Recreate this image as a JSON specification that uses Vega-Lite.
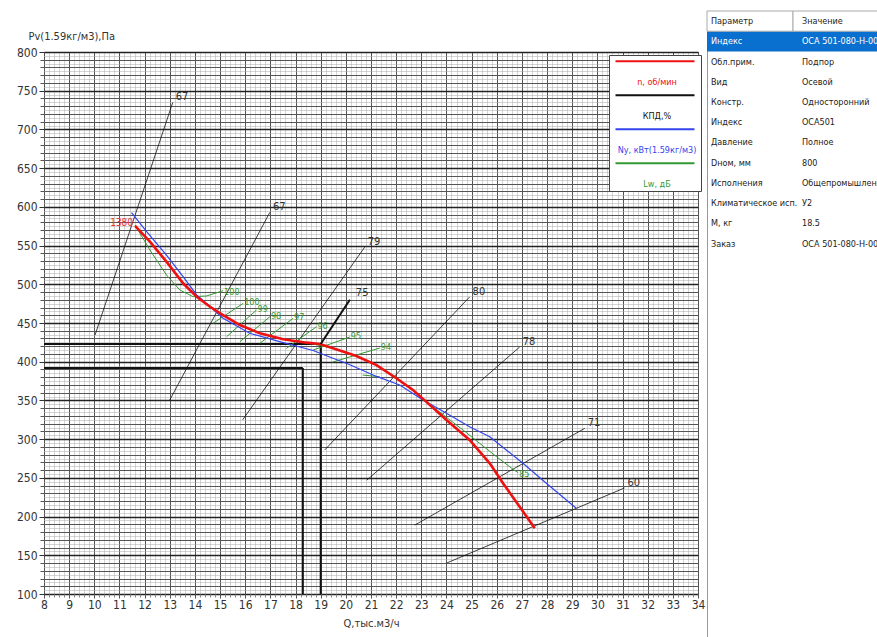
{
  "$schema": "https://vega.github.io/schema/vega-lite/v6.json",
  "background": "white",
  "padding": {"left": 15, "top": 10, "right": 0, "bottom": 0},
  "autosize": {"type": "pad"},
  "config": {"font": "Liberation Sans Narrow, DejaVu Sans Condensed, Arial Narrow, sans-serif"},
  "datasets": {
    "red": [
      {"q": 11.62, "p": 575.3}, {"q": 12.21, "p": 555}, {"q": 12.87, "p": 529.2}, {"q": 13.53, "p": 501.3},
      {"q": 14.07, "p": 484}, {"q": 14.6, "p": 471}, {"q": 15.12, "p": 460.3}, {"q": 15.79, "p": 447.4},
      {"q": 16.58, "p": 436.7}, {"q": 17.51, "p": 428.9}, {"q": 18.44, "p": 424.6}, {"q": 18.97, "p": 422.9},
      {"q": 19.49, "p": 417.3}, {"q": 20.09, "p": 410.9}, {"q": 20.42, "p": 407.4}, {"q": 21.22, "p": 395.7},
      {"q": 22.01, "p": 378.6}, {"q": 22.67, "p": 363.5}, {"q": 23.07, "p": 352}, {"q": 24.0, "p": 324.7},
      {"q": 24.92, "p": 298.9}, {"q": 25.72, "p": 268.8}, {"q": 26.25, "p": 243}, {"q": 26.91, "p": 212.7},
      {"q": 27.51, "p": 184.9}
    ],
    "blue": [
      {"q": 11.48, "p": 592.4}, {"q": 12.08, "p": 567.9}, {"q": 12.87, "p": 537.8}, {"q": 13.53, "p": 509.8},
      {"q": 14.07, "p": 486.2}, {"q": 15.12, "p": 456.1}, {"q": 16.18, "p": 436.7}, {"q": 17.51, "p": 424.6},
      {"q": 18.7, "p": 414.5}, {"q": 19.49, "p": 404.5}, {"q": 20.09, "p": 397}, {"q": 21.22, "p": 381},
      {"q": 22.14, "p": 370}, {"q": 23.07, "p": 350.5}, {"q": 24.0, "p": 333.4}, {"q": 24.92, "p": 316.1},
      {"q": 25.72, "p": 303.2}, {"q": 26.38, "p": 286}, {"q": 27.04, "p": 268.8}, {"q": 27.97, "p": 243},
      {"q": 29.16, "p": 210.7}
    ],
    "green": [
      {"id": "curl", "q": 11.62, "p": 576.6}, {"id": "curl", "q": 12.21, "p": 544.3}, {"id": "curl", "q": 12.87, "p": 512},
      {"id": "curl", "q": 13.4, "p": 492.6}, {"id": "curl", "q": 13.93, "p": 484}, {"id": "curl", "q": 14.46, "p": 484.9},
      {"id": "curl", "q": 15.12, "p": 491.7},
      {"id": "main", "q": 14.07, "p": 484}, {"id": "main", "q": 15.12, "p": 460.3}, {"id": "main", "q": 15.79, "p": 447.4},
      {"id": "main", "q": 16.58, "p": 436.7}, {"id": "main", "q": 17.51, "p": 428.9}, {"id": "main", "q": 18.44, "p": 424.6},
      {"id": "main", "q": 19.49, "p": 417.3}, {"id": "main", "q": 20.42, "p": 407.4}, {"id": "main", "q": 21.22, "p": 395.7},
      {"id": "main", "q": 22.01, "p": 379.5}, {"id": "main", "q": 23.07, "p": 352}, {"id": "main", "q": 24.0, "p": 328.2},
      {"id": "main", "q": 24.66, "p": 311.8}, {"id": "main", "q": 25.32, "p": 294.6}, {"id": "main", "q": 25.99, "p": 277.3},
      {"id": "main", "q": 26.65, "p": 261}, {"id": "main", "q": 26.85, "p": 256.7}
    ],
    "gseg": [
      {"q1": 14.72, "p1": 449.6, "q2": 15.92, "p2": 475.4, "t": "100"},
      {"q1": 15.26, "p1": 432.3, "q2": 16.45, "p2": 466.8, "t": "99"},
      {"q1": 15.79, "p1": 425.9, "q2": 16.98, "p2": 458.1, "t": "98"},
      {"q1": 16.58, "p1": 423.8, "q2": 17.9, "p2": 456, "t": "97"},
      {"q1": 17.64, "p1": 417.3, "q2": 18.83, "p2": 445.2, "t": "96"},
      {"q1": 18.69, "p1": 415, "q2": 20.16, "p2": 431.9, "t": "95"},
      {"q1": 19.48, "p1": 399.6, "q2": 21.35, "p2": 417.7, "t": "94"},
      {"q1": 20.67, "p1": 382.8, "q2": 21.35, "p2": 380.6, "t": ""}
    ],
    "glab": [
      {"q": 15.12, "p": 491.7, "t": "100"},
      {"q": 26.85, "p": 256.7, "t": "85"}
    ],
    "kpd": [
      {"q1": 10.03, "p1": 434.5, "q2": 13.12, "p2": 735, "t": "67"},
      {"q1": 13.0, "p1": 350.5, "q2": 16.98, "p2": 593, "t": "67"},
      {"q1": 15.9, "p1": 325, "q2": 20.75, "p2": 548, "t": "79"},
      {"q1": 19.16, "p1": 286, "q2": 24.92, "p2": 483.6, "t": "80"},
      {"q1": 20.83, "p1": 247, "q2": 26.91, "p2": 419, "t": "78"},
      {"q1": 22.74, "p1": 189, "q2": 29.5, "p2": 314, "t": "71"},
      {"q1": 24.01, "p1": 140, "q2": 31.08, "p2": 237, "t": "60"}
    ],
    "kpdBold": [
      {"q1": 19.0, "p1": 422.9, "q2": 20.16, "p2": 480, "t": "75"}
    ],
    "op": [
      {"q1": 8, "p1": 422.9, "q2": 19, "p2": 422.9},
      {"q1": 19, "p1": 422.9, "q2": 19, "p2": 100},
      {"q1": 8, "p1": 391.9, "q2": 18.29, "p2": 391.9},
      {"q1": 18.29, "p1": 391.9, "q2": 18.29, "p2": 100}
    ],
    "redlab": [{"q": 11.62, "p": 575.3, "t": "1380"}],
    "tbl": [
      {"r": 0, "k": "Параметр", "v": "Значение"},
      {"r": 1, "k": "Индекс", "v": "ОСА 501-080-Н-00220"},
      {"r": 2, "k": "Обл.прим.", "v": "Подпор"},
      {"r": 3, "k": "Вид", "v": "Осевой"},
      {"r": 4, "k": "Констр.", "v": "Односторонний"},
      {"r": 5, "k": "Индекс", "v": "ОСА501"},
      {"r": 6, "k": "Давление", "v": "Полное"},
      {"r": 7, "k": "Dном, мм", "v": "800"},
      {"r": 8, "k": "Исполнения", "v": "Общепромышленный"},
      {"r": 9, "k": "Климатическое исп.", "v": "У2"},
      {"r": 10, "k": "M, кг", "v": "18.5"},
      {"r": 11, "k": "Заказ", "v": "ОСА 501-080-Н-00220"}
    ]
  },
  "spacing": 0,
  "hconcat": [
    {
      "spacing": 0,
      "vconcat": [
        {
          "width": 654, "height": 18,
          "data": {"values": [{}]},
          "mark": {"type": "text"},
          "encoding": {"text": {"value": ""}},
          "view": {"stroke": null}
        },
        {
          "width": 654, "height": 542,
          "view": {"stroke": "#333", "strokeWidth": 1},
          "resolve": {"axis": {"x": "independent", "y": "independent"}},
          "layer": [
            {
              "data": {"name": "kpd"},
              "mark": {"type": "rule", "strokeWidth": 0.8},
              "encoding": {
                "x": {"field": "q1", "type": "quantitative", "scale": {"domain": [8, 34], "nice": false, "zero": false},
                  "axis": {"orient": "bottom", "tickCount": 130, "grid": true, "gridColor": "#aaa", "gridDash": [1, 1], "gridWidth": 1, "labels": false, "ticks": true, "tickSize": 3, "tickColor": "#888", "domain": false, "title": null}},
                "x2": {"field": "q2"},
                "y": {"field": "p1", "type": "quantitative", "scale": {"domain": [100, 800], "nice": false, "zero": false},
                  "axis": {"orient": "left", "tickCount": 140, "grid": true, "gridColor": "#aaa", "gridDash": [1, 1], "gridWidth": 1, "labels": false, "ticks": false, "domain": false, "title": null}},
                "y2": {"field": "p2"},
                "color": {"datum": "КПД,%", "type": "nominal",
                  "scale": {"domain": ["n, об/мин", "КПД,%", "Ny, кВт(1.59кг/м3)", "Lw, дБ"], "range": ["#ee1111", "#111111", "#3344ee", "#339933"]},
                  "legend": {
                    "title": " ", "titleFontSize": 12, "titlePadding": 8,
                    "orient": "none", "legendX": 565, "legendY": 44, "padding": 2,
                    "symbolType": "M0,-8.1H31.6", "symbolSize": 25, "symbolStrokeWidth": 2,
                    "labelAlign": "center", "labelOffset": 37, "labelFontSize": 9, "labelLimit": 200,
                    "rowPadding": 4,
                    "strokeColor": "#444", "fillColor": "white",
                    "encode": {"labels": {"update": {"fill": {"scale": "color", "field": "value"}}}}
                  }}
              }
            },
            {
              "data": {"name": "op"},
              "mark": {"type": "rule", "strokeWidth": 2, "color": "#111"},
              "encoding": {
                "x": {"field": "q1", "type": "quantitative", "scale": {"domain": [8, 34], "nice": false, "zero": false},
                  "axis": {"orient": "bottom", "tickCount": 26, "grid": true, "gridColor": "#555", "gridWidth": 1, "domain": false, "ticks": true, "tickColor": "#555", "tickSize": 4, "labelFontSize": 12, "labelColor": "#333", "labelPadding": 1, "labelFlush": false, "title": "Q,тыс.м3/ч", "titleFontSize": 11, "titleFontWeight": "normal", "titleColor": "#333", "titlePadding": 7}},
                "x2": {"field": "q2"},
                "y": {"field": "p1", "type": "quantitative", "scale": {"domain": [100, 800], "nice": false, "zero": false},
                  "axis": {"orient": "left", "tickCount": 70, "grid": true, "gridColor": "#555", "gridWidth": 1, "labels": false, "ticks": true, "tickSize": 4, "tickColor": "#555", "domain": false, "title": null}},
                "y2": {"field": "p2"}
              }
            },
            {
              "data": {"name": "green"},
              "mark": {"type": "line", "strokeWidth": 1},
              "encoding": {
                "x": {"field": "q", "type": "quantitative", "axis": null},
                "y": {"field": "p", "type": "quantitative",
                  "axis": {"orient": "left", "tickCount": 14, "grid": true, "gridColor": "#222", "gridWidth": 1.5, "domain": false, "ticks": true, "tickSize": 5, "tickColor": "#333", "labelFontSize": 12, "labelColor": "#333", "labelPadding": 2, "labelFlush": false, "title": "Pv(1.59кг/м3),Па", "titleAngle": 0, "titleAlign": "left", "titleBaseline": "middle", "titleX": -16, "titleY": -16, "titleFontSize": 11, "titleFontWeight": "normal", "titleColor": "#333"}},
                "detail": {"field": "id"},
                "color": {"datum": "Lw, дБ", "type": "nominal"}
              }
            },
            {
              "data": {"name": "gseg"},
              "mark": {"type": "rule", "strokeWidth": 1},
              "encoding": {
                "x": {"field": "q1", "type": "quantitative", "axis": null},
                "x2": {"field": "q2"},
                "y": {"field": "p1", "type": "quantitative", "axis": null},
                "y2": {"field": "p2"},
                "color": {"datum": "Lw, дБ", "type": "nominal"}
              }
            },
            {
              "data": {"name": "blue"},
              "mark": {"type": "line", "strokeWidth": 1.2},
              "encoding": {
                "x": {"field": "q", "type": "quantitative", "axis": null},
                "y": {"field": "p", "type": "quantitative", "axis": null},
                "color": {"datum": "Ny, кВт(1.59кг/м3)", "type": "nominal"}
              }
            },
            {
              "data": {"name": "red"},
              "mark": {"type": "line", "strokeWidth": 2.6},
              "encoding": {
                "x": {"field": "q", "type": "quantitative", "axis": null},
                "y": {"field": "p", "type": "quantitative", "axis": null},
                "color": {"datum": "n, об/мин", "type": "nominal"}
              }
            },
            {
              "data": {"name": "kpdBold"},
              "mark": {"type": "rule", "strokeWidth": 2, "color": "#111"},
              "encoding": {
                "x": {"field": "q1", "type": "quantitative", "axis": null},
                "x2": {"field": "q2"},
                "y": {"field": "p1", "type": "quantitative", "axis": null},
                "y2": {"field": "p2"}
              }
            },
            {
              "data": {"name": "kpd"},
              "mark": {"type": "text", "align": "left", "baseline": "middle", "dx": 3, "dy": -5, "fontSize": 11, "color": "#333"},
              "encoding": {
                "x": {"field": "q2", "type": "quantitative", "axis": null},
                "y": {"field": "p2", "type": "quantitative", "axis": null},
                "text": {"field": "t"}
              }
            },
            {
              "data": {"name": "kpdBold"},
              "mark": {"type": "text", "align": "left", "baseline": "middle", "dx": 6, "dy": -7, "fontSize": 11, "color": "#333"},
              "encoding": {
                "x": {"field": "q2", "type": "quantitative", "axis": null},
                "y": {"field": "p2", "type": "quantitative", "axis": null},
                "text": {"field": "t"}
              }
            },
            {
              "data": {"name": "gseg"},
              "mark": {"type": "text", "align": "left", "baseline": "middle", "dx": 1, "dy": -1, "fontSize": 9, "color": "#339933"},
              "encoding": {
                "x": {"field": "q2", "type": "quantitative", "axis": null},
                "y": {"field": "p2", "type": "quantitative", "axis": null},
                "text": {"field": "t"}
              }
            },
            {
              "data": {"name": "glab"},
              "mark": {"type": "text", "align": "left", "baseline": "middle", "dx": 1, "dy": 1, "fontSize": 9, "color": "#339933"},
              "encoding": {
                "x": {"field": "q", "type": "quantitative", "axis": null},
                "y": {"field": "p", "type": "quantitative", "axis": null},
                "text": {"field": "t"}
              }
            },
            {
              "data": {"name": "redlab"},
              "mark": {"type": "text", "align": "right", "baseline": "middle", "dx": -2, "dy": -3, "fontSize": 10, "color": "#ee3333"},
              "encoding": {
                "x": {"field": "q", "type": "quantitative", "axis": null},
                "y": {"field": "p", "type": "quantitative", "axis": null},
                "text": {"field": "t"}
              }
            }
          ]
        }
      ]
    },
    {
      "width": 172, "height": 627,
      "view": {"stroke": "#999"},
      "data": {"name": "tbl"},
      "encoding": {
        "y": {"field": "r", "type": "ordinal", "axis": null,
          "scale": {"domain": [0,1,2,3,4,5,6,7,8,9,10,11,12,13,14,15,16,17,18,19,20,21,22,23,24,25,26,27,28,29,30], "paddingInner": 0, "paddingOuter": 0}}
      },
      "layer": [
        {
          "transform": [{"filter": "datum.r == 1"}],
          "mark": {"type": "rect", "color": "#0a70d0"}
        },
        {
          "transform": [{"filter": "datum.r == 0"}],
          "mark": {"type": "rect", "fill": "white", "stroke": "#aaa", "strokeWidth": 1},
          "encoding": {
            "x": {"datum": "k", "type": "nominal", "axis": null, "scale": {"domain": ["k", "v"], "paddingInner": 0, "paddingOuter": 0}}
          }
        },
        {
          "transform": [{"filter": "datum.r == 0"}],
          "mark": {"type": "rect", "fill": "white", "stroke": "#aaa", "strokeWidth": 1},
          "encoding": {
            "x": {"datum": "v", "type": "nominal", "axis": null}
          }
        },
        {
          "mark": {"type": "text", "align": "left", "baseline": "middle", "dx": 4, "fontSize": 9},
          "encoding": {
            "x": {"datum": "k", "type": "nominal", "bandPosition": 0, "axis": null},
            "text": {"field": "k"},
            "color": {"condition": {"test": "datum.r == 1", "value": "white"}, "value": "#222"}
          }
        },
        {
          "mark": {"type": "text", "align": "left", "baseline": "middle", "dx": 9, "fontSize": 9},
          "encoding": {
            "x": {"datum": "v", "type": "nominal", "bandPosition": 0, "axis": null},
            "text": {"field": "v"},
            "color": {"condition": {"test": "datum.r == 1", "value": "white"}, "value": "#222"}
          }
        }
      ]
    }
  ]
}
